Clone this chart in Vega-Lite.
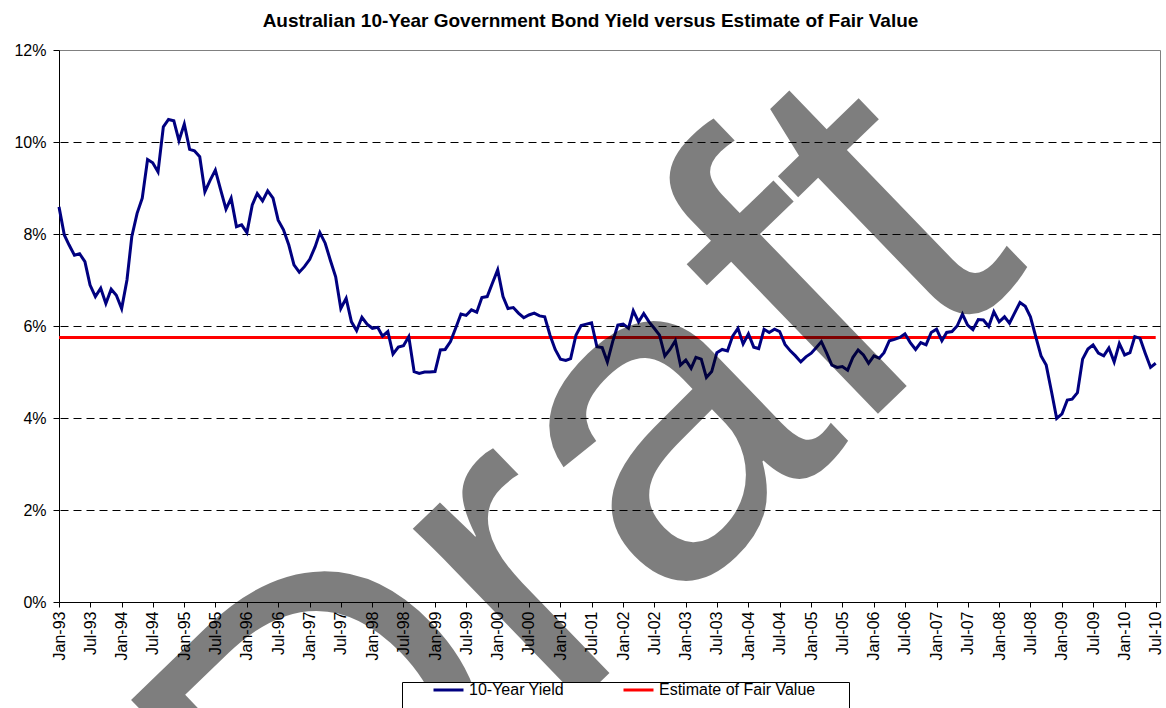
{
  "$schema": "https://vega.github.io/schema/vega-lite/v6.json",
  "width": 1101,
  "height": 552,
  "autosize": {"type": "none"},
  "padding": {"left": 59, "top": 50, "right": 6, "bottom": 106},
  "background": "white",
  "config": {
    "font": "Liberation Sans",
    "view": {"stroke": "#808080", "strokeWidth": 1}
  },
  "datasets": {
    "yield": [
      {"date":"1993-01-01","v":8.59},{"date":"1993-02-01","v":7.98},{"date":"1993-03-01","v":7.76},{"date":"1993-04-01","v":7.54},{"date":"1993-05-01","v":7.57},{"date":"1993-06-01","v":7.40},{"date":"1993-07-01","v":6.89},{"date":"1993-08-01","v":6.64},{"date":"1993-09-01","v":6.82},{"date":"1993-10-01","v":6.49},{"date":"1993-11-01","v":6.80},{"date":"1993-12-01","v":6.67},
      {"date":"1994-01-01","v":6.38},{"date":"1994-02-01","v":7.00},{"date":"1994-03-01","v":7.94},{"date":"1994-04-01","v":8.45},{"date":"1994-05-01","v":8.78},{"date":"1994-06-01","v":9.62},{"date":"1994-07-01","v":9.55},{"date":"1994-08-01","v":9.35},{"date":"1994-09-01","v":10.33},{"date":"1994-10-01","v":10.49},{"date":"1994-11-01","v":10.46},{"date":"1994-12-01","v":10.03},
      {"date":"1995-01-01","v":10.39},{"date":"1995-02-01","v":9.84},{"date":"1995-03-01","v":9.81},{"date":"1995-04-01","v":9.68},{"date":"1995-05-01","v":8.92},{"date":"1995-06-01","v":9.17},{"date":"1995-07-01","v":9.39},{"date":"1995-08-01","v":8.96},{"date":"1995-09-01","v":8.54},{"date":"1995-10-01","v":8.78},{"date":"1995-11-01","v":8.16},{"date":"1995-12-01","v":8.20},
      {"date":"1996-01-01","v":8.03},{"date":"1996-02-01","v":8.63},{"date":"1996-03-01","v":8.88},{"date":"1996-04-01","v":8.72},{"date":"1996-05-01","v":8.94},{"date":"1996-06-01","v":8.78},{"date":"1996-07-01","v":8.30},{"date":"1996-08-01","v":8.09},{"date":"1996-09-01","v":7.76},{"date":"1996-10-01","v":7.33},{"date":"1996-11-01","v":7.17},{"date":"1996-12-01","v":7.29},
      {"date":"1997-01-01","v":7.45},{"date":"1997-02-01","v":7.72},{"date":"1997-03-01","v":8.03},{"date":"1997-04-01","v":7.80},{"date":"1997-05-01","v":7.43},{"date":"1997-06-01","v":7.07},{"date":"1997-07-01","v":6.38},{"date":"1997-08-01","v":6.60},{"date":"1997-09-01","v":6.09},{"date":"1997-10-01","v":5.90},{"date":"1997-11-01","v":6.19},{"date":"1997-12-01","v":6.04},
      {"date":"1998-01-01","v":5.95},{"date":"1998-02-01","v":5.97},{"date":"1998-03-01","v":5.78},{"date":"1998-04-01","v":5.88},{"date":"1998-05-01","v":5.39},{"date":"1998-06-01","v":5.54},{"date":"1998-07-01","v":5.57},{"date":"1998-08-01","v":5.77},{"date":"1998-09-01","v":5.01},{"date":"1998-10-01","v":4.97},{"date":"1998-11-01","v":5.00},{"date":"1998-12-01","v":5.00},
      {"date":"1999-01-01","v":5.01},{"date":"1999-02-01","v":5.48},{"date":"1999-03-01","v":5.49},{"date":"1999-04-01","v":5.66},{"date":"1999-05-01","v":5.95},{"date":"1999-06-01","v":6.26},{"date":"1999-07-01","v":6.23},{"date":"1999-08-01","v":6.35},{"date":"1999-09-01","v":6.30},{"date":"1999-10-01","v":6.62},{"date":"1999-11-01","v":6.64},{"date":"1999-12-01","v":6.93},
      {"date":"2000-01-01","v":7.22},{"date":"2000-02-01","v":6.64},{"date":"2000-03-01","v":6.38},{"date":"2000-04-01","v":6.40},{"date":"2000-05-01","v":6.28},{"date":"2000-06-01","v":6.18},{"date":"2000-07-01","v":6.24},{"date":"2000-08-01","v":6.28},{"date":"2000-09-01","v":6.22},{"date":"2000-10-01","v":6.20},{"date":"2000-11-01","v":5.80},{"date":"2000-12-01","v":5.49},
      {"date":"2001-01-01","v":5.28},{"date":"2001-02-01","v":5.25},{"date":"2001-03-01","v":5.29},{"date":"2001-04-01","v":5.80},{"date":"2001-05-01","v":6.01},{"date":"2001-06-01","v":6.04},{"date":"2001-07-01","v":6.07},{"date":"2001-08-01","v":5.55},{"date":"2001-09-01","v":5.53},{"date":"2001-10-01","v":5.22},{"date":"2001-11-01","v":5.66},{"date":"2001-12-01","v":6.02},
      {"date":"2002-01-01","v":6.04},{"date":"2002-02-01","v":5.95},{"date":"2002-03-01","v":6.33},{"date":"2002-04-01","v":6.09},{"date":"2002-05-01","v":6.27},{"date":"2002-06-01","v":6.09},{"date":"2002-07-01","v":5.95},{"date":"2002-08-01","v":5.80},{"date":"2002-09-01","v":5.35},{"date":"2002-10-01","v":5.49},{"date":"2002-11-01","v":5.68},{"date":"2002-12-01","v":5.15},
      {"date":"2003-01-01","v":5.26},{"date":"2003-02-01","v":5.08},{"date":"2003-03-01","v":5.32},{"date":"2003-04-01","v":5.28},{"date":"2003-05-01","v":4.88},{"date":"2003-06-01","v":5.01},{"date":"2003-07-01","v":5.42},{"date":"2003-08-01","v":5.49},{"date":"2003-09-01","v":5.46},{"date":"2003-10-01","v":5.78},{"date":"2003-11-01","v":5.95},{"date":"2003-12-01","v":5.61},
      {"date":"2004-01-01","v":5.83},{"date":"2004-02-01","v":5.54},{"date":"2004-03-01","v":5.51},{"date":"2004-04-01","v":5.93},{"date":"2004-05-01","v":5.86},{"date":"2004-06-01","v":5.93},{"date":"2004-07-01","v":5.88},{"date":"2004-08-01","v":5.60},{"date":"2004-09-01","v":5.46},{"date":"2004-10-01","v":5.35},{"date":"2004-11-01","v":5.22},{"date":"2004-12-01","v":5.33},
      {"date":"2005-01-01","v":5.41},{"date":"2005-02-01","v":5.54},{"date":"2005-03-01","v":5.66},{"date":"2005-04-01","v":5.41},{"date":"2005-05-01","v":5.15},{"date":"2005-06-01","v":5.10},{"date":"2005-07-01","v":5.12},{"date":"2005-08-01","v":5.04},{"date":"2005-09-01","v":5.32},{"date":"2005-10-01","v":5.48},{"date":"2005-11-01","v":5.37},{"date":"2005-12-01","v":5.19},
      {"date":"2006-01-01","v":5.35},{"date":"2006-02-01","v":5.30},{"date":"2006-03-01","v":5.42},{"date":"2006-04-01","v":5.68},{"date":"2006-05-01","v":5.71},{"date":"2006-06-01","v":5.75},{"date":"2006-07-01","v":5.83},{"date":"2006-08-01","v":5.64},{"date":"2006-09-01","v":5.49},{"date":"2006-10-01","v":5.64},{"date":"2006-11-01","v":5.59},{"date":"2006-12-01","v":5.86},
      {"date":"2007-01-01","v":5.93},{"date":"2007-02-01","v":5.68},{"date":"2007-03-01","v":5.86},{"date":"2007-04-01","v":5.88},{"date":"2007-05-01","v":6.00},{"date":"2007-06-01","v":6.26},{"date":"2007-07-01","v":6.02},{"date":"2007-08-01","v":5.92},{"date":"2007-09-01","v":6.14},{"date":"2007-10-01","v":6.13},{"date":"2007-11-01","v":5.99},{"date":"2007-12-01","v":6.31},
      {"date":"2008-01-01","v":6.09},{"date":"2008-02-01","v":6.20},{"date":"2008-03-01","v":6.06},{"date":"2008-04-01","v":6.29},{"date":"2008-05-01","v":6.51},{"date":"2008-06-01","v":6.43},{"date":"2008-07-01","v":6.20},{"date":"2008-08-01","v":5.77},{"date":"2008-09-01","v":5.35},{"date":"2008-10-01","v":5.15},{"date":"2008-11-01","v":4.57},{"date":"2008-12-01","v":3.99},
      {"date":"2009-01-01","v":4.09},{"date":"2009-02-01","v":4.39},{"date":"2009-03-01","v":4.41},{"date":"2009-04-01","v":4.55},{"date":"2009-05-01","v":5.28},{"date":"2009-06-01","v":5.50},{"date":"2009-07-01","v":5.59},{"date":"2009-08-01","v":5.41},{"date":"2009-09-01","v":5.35},{"date":"2009-10-01","v":5.52},{"date":"2009-11-01","v":5.22},{"date":"2009-12-01","v":5.62},
      {"date":"2010-01-01","v":5.37},{"date":"2010-02-01","v":5.42},{"date":"2010-03-01","v":5.77},{"date":"2010-04-01","v":5.73},{"date":"2010-05-01","v":5.41},{"date":"2010-06-01","v":5.10},{"date":"2010-07-01","v":5.19}
    ],
    "fair": [
      {"date":"1993-01-01","v":5.75},{"date":"2010-07-01","v":5.75}
    ],
    "mark": [{"label":"Draft","date":"2001-05-01","v":2.0}]
  },
  "resolve": {"axis": {"x": "independent", "y": "independent"}},
  "layer": [
    {
      "data": {"name": "fair"},
      "mark": {"type": "line", "strokeWidth": 3},
      "encoding": {
        "x": {
          "field": "date", "type": "temporal",
          "scale": {"type": "utc", "domain": ["1993-01-01", "2010-07-26"], "nice": false},
          "axis": {
            "title": null,
            "labelExpr": "utcFormat(datum.value, '%b-%y')",
            "tickCount": {"interval": "month", "step": 6},
            "labelAngle": 270,
            "labelAlign": "right",
            "labelBaseline": "middle",
            "labelFontSize": 16,
            "labelColor": "black",
            "labelPadding": 4,
            "labelOverlap": false,
            "labelFlush": false,
            "tickSize": 5,
            "tickColor": "black",
            "domainColor": "black",
            "grid": false
          }
        },
        "y": {
          "field": "v", "type": "quantitative",
          "scale": {"domain": [0, 12], "nice": false},
          "axis": {
            "title": null,
            "values": [0, 2, 4, 6, 8, 10, 12],
            "labelExpr": "datum.value + '%'",
            "labelFontSize": 16,
            "labelColor": "black",
            "labelPadding": 7,
            "tickSize": 6,
            "tickColor": "black",
            "domainColor": "black",
            "grid": false
          }
        },
        "color": {
          "datum": "Estimate of Fair Value",
          "type": "nominal",
          "scale": {"domain": ["10-Year Yield", "Estimate of Fair Value"], "range": ["#000080", "#FF0000"]},
          "legend": {
            "title": "\u00a0",
            "titleOrient": "bottom",
            "titleFontSize": 30,
            "titlePadding": 0,
            "orient": "none",
            "legendX": 343,
            "legendY": 632,
            "direction": "horizontal",
            "columns": 2,
            "strokeColor": "black",
            "fillColor": "white",
            "padding": 1,
            "clipHeight": 14,
            "symbolType": "stroke",
            "symbolSize": 900,
            "symbolStrokeWidth": 3,
            "symbolOffset": 29,
            "labelOffset": 4,
            "labelFontSize": 16,
            "labelColor": "black",
            "labelLimit": 400,
            "labelExpr": "indexof(datum.label, 'Estimate') >= 0 ? datum.label + '\u2003\u2003\u200b' : datum.label",
            "columnPadding": 29
          }
        }
      }
    },
    {
      "data": {"name": "yield"},
      "mark": {"type": "line", "strokeWidth": 3},
      "encoding": {
        "x": {
          "field": "date", "type": "temporal",
          "axis": {
            "orient": "top",
            "title": "Australian 10-Year Government Bond Yield versus Estimate of Fair Value",
            "titleFontSize": 19,
            "titleFontWeight": "bold",
            "titleColor": "black",
            "titleX": 531,
            "titleAlign": "center",
            "titlePadding": 20,
            "labels": false,
            "ticks": false,
            "domain": false,
            "grid": false
          }
        },
        "y": {
          "field": "v", "type": "quantitative",
          "axis": {
            "orient": "right",
            "title": null,
            "values": [2, 4, 6, 8, 10],
            "labels": false,
            "ticks": false,
            "domain": false,
            "grid": true,
            "gridColor": "black",
            "gridDash": [8, 5],
            "gridWidth": 1
          }
        },
        "color": {"datum": "10-Year Yield", "type": "nominal"}
      }
    },
    {
      "data": {"name": "mark"},
      "mark": {"type": "text", "font": "Liberation Sans", "fontSize": 455, "angle": -44, "align": "center", "baseline": "middle", "color": "black", "opacity": 0.5, "clip": false},
      "encoding": {
        "text": {"field": "label"},
        "x": {"field": "date", "type": "temporal", "axis": null},
        "y": {"field": "v", "type": "quantitative", "axis": null}
      }
    }
  ]
}
